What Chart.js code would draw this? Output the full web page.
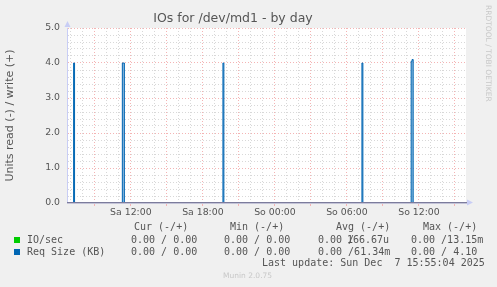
<!DOCTYPE html>
<html>
<head>
<meta charset="utf-8">
<script src="https://cdn.jsdelivr.net/npm/chart.js@4.4.1/dist/chart.umd.min.js"></script>
<style>
  html, body { margin: 0; padding: 0; background: #f0f0f0; }
  #wrap { position: relative; width: 497px; height: 287px; overflow: hidden; }
  #chart { position: absolute; left: 0; top: 0; }
  .t { position: absolute; white-space: pre; font-family: 'DejaVu Sans Mono', monospace; font-size: 10px; line-height: 10px; color: #555; }
  .sw { position: absolute; width: 6px; height: 6px; }
  .wm { position: absolute; font-family: 'DejaVu Sans', sans-serif; font-size: 7.5px; line-height: 8px; color: #c8c8c8; white-space: pre; }
</style>
</head>
<body>
<div id="wrap">
  <canvas id="chart" width="497" height="287"></canvas>

  <div class="wm" style="left:484px; top:5px; writing-mode: vertical-rl;">RRDTOOL / TOBI OETIKER</div>

  <div class="t" style="left:134px; top:222px;">Cur (-/+)</div>
  <div class="t" style="left:230px; top:222px;">Min (-/+)</div>
  <div class="t" style="left:336px; top:222px;">Avg (-/+)</div>
  <div class="t" style="left:423px; top:222px;">Max (-/+)</div>

  <div class="sw" style="left:14px; top:237px; background:#00cc00;"></div>
  <div class="t" style="left:27px; top:235px;">IO/sec</div>
  <div class="t" style="left:131px; top:235px;">0.00 / 0.00</div>
  <div class="t" style="left:224px; top:235px;">0.00 / 0.00</div>
  <div class="t" style="left:318px; top:235px;">0.00 /</div>
  <div class="t" style="left:347px; top:235px;">166.67u</div>
  <div class="t" style="left:411px; top:235px;">0.00 /13.15m</div>

  <div class="sw" style="left:14px; top:249px; background:#0066b3;"></div>
  <div class="t" style="left:27px; top:247px;">Req Size (KB)</div>
  <div class="t" style="left:131px; top:247px;">0.00 / 0.00</div>
  <div class="t" style="left:224px; top:247px;">0.00 / 0.00</div>
  <div class="t" style="left:318px; top:247px;">0.00 /61.34m</div>
  <div class="t" style="left:411px; top:247px;">0.00 / 4.10</div>

  <div class="t" style="left:262px; top:258px;">Last update: Sun Dec  7 15:55:04 2025</div>

  <div class="wm" style="left:223px; top:272px;">Munin 2.0.75</div>
</div>

<script>
// Zeitachse in Stunden ab Samstag 00:00
const xMin = 6.68;
const xMax = 39.92;

const labelHours = [12, 18, 24, 30, 36];
const labelTexts = ['Sa 12:00', 'Sa 18:00', 'So 00:00', 'So 06:00', 'So 12:00'];
const majorGridHours = [9, 12, 15, 18, 21, 24, 27, 30, 33, 36, 39];
const yLabelValues = [0, 1, 2, 3, 4, 5];

// Req Size (KB): Werte gelten bis zum nächsten Zeitpunkt
const reqTimes  = [6.68, 7.23, 7.31, 11.29, 11.46, 19.67, 19.75, 31.25, 31.33, 35.35, 35.43, 35.52, 39.92];
const reqValues = [0,    4.0,  0,    4.0,   0,     4.0,   0,     4.0,   0,     4.05,  4.10,  0,     0];

// IO/sec: praktisch null
const ioTimes  = [6.68, 7.23, 7.31, 11.29, 11.46, 19.67, 19.75, 31.25, 31.33, 35.35, 35.52, 39.92];
const ioValues = [0,    0.013, 0,   0.013, 0,     0.013, 0,     0.013, 0,     0.013, 0,     0];

const RED = '#f4b4b4';
const GREY = '#d8d8d8';
const AXIS = '#c8cdf5';

function toPoints(xs, ys) {
    return xs.map((x, i) => ({ x: x, y: ys[i] }));
}

const isMajorY = v => yLabelValues.some(m => Math.abs(m - v) < 1e-6);
const isMajorX = v => majorGridHours.includes(v);

// Hintergrund, Nulllinie und Pfeile
const muninDecor = {
    id: 'muninDecor',
    beforeDraw(chart) {
        const { ctx, chartArea: a } = chart;
        ctx.save();
        ctx.fillStyle = '#f0f0f0';
        ctx.fillRect(0, 0, chart.width, chart.height);
        ctx.fillStyle = '#ffffff';
        ctx.fillRect(a.left, a.top, a.right - a.left, a.bottom - a.top);
        ctx.restore();
    },
    afterDatasetsDraw(chart) {
        const { ctx, chartArea: a } = chart;
        const y0 = Math.round(chart.scales.y.getPixelForValue(0));
        ctx.save();
        ctx.fillStyle = '#7c7c9c';
        ctx.fillRect(a.left, y0 - 1, a.right - a.left + 1, 1);
        ctx.fillStyle = '#c4c4d8';
        ctx.fillRect(a.left, y0, a.right - a.left + 1, 1);

        ctx.fillStyle = AXIS;
        ctx.beginPath();
        ctx.moveTo(a.right + 1, y0 - 3.5);
        ctx.lineTo(a.right + 7, y0 - 0.5);
        ctx.lineTo(a.right + 1, y0 + 2.5);
        ctx.closePath();
        ctx.fill();

        const xl = a.left + 0.5;
        ctx.beginPath();
        ctx.moveTo(xl - 3, a.top - 1);
        ctx.lineTo(xl, a.top - 7);
        ctx.lineTo(xl + 3, a.top - 1);
        ctx.closePath();
        ctx.fill();
        ctx.restore();
    }
};

new Chart(document.getElementById('chart'), {
    type: 'line',
    data: {
        datasets: [
            {
                label: 'IO/sec',
                data: toPoints(ioTimes, ioValues),
                borderColor: '#00cc00',
                borderWidth: 1,
                pointRadius: 0,
                stepped: true,
                fill: false
            },
            {
                label: 'Req Size (KB)',
                data: toPoints(reqTimes, reqValues),
                borderColor: '#0066b3',
                backgroundColor: 'rgba(0, 102, 179, 0.45)',
                borderWidth: 1,
                pointRadius: 0,
                stepped: true,
                fill: 'origin'
            }
        ]
    },
    options: {
        responsive: false,
        animation: false,
        devicePixelRatio: 1,
        layout: {
            padding: { top: 0, left: 0, right: 31, bottom: 64 }
        },
        plugins: {
            legend: { display: false },
            tooltip: { enabled: false },
            title: {
                display: true,
                text: 'IOs for /dev/md1 - by day',
                color: '#555',
                font: { family: 'DejaVu Sans', size: 12.5, weight: 'normal', lineHeight: 1.2 },
                padding: { top: 11.5, bottom: 1.5 }
            }
        },
        scales: {
            x: {
                type: 'linear',
                min: xMin,
                max: xMax,
                afterBuildTicks: scale => {
                    const ticks = [];
                    for (let h = 7; h <= 39; h++) ticks.push({ value: h });
                    scale.ticks = ticks;
                },
                afterFit: scale => { scale.height = 20; },
                grid: {
                    color: c => (c.tick && isMajorX(c.tick.value)) ? RED : GREY,
                    tickColor: c => (c.tick && isMajorX(c.tick.value)) ? RED : 'rgba(0,0,0,0)',
                    tickLength: 3,
                    drawTicks: true
                },
                border: { display: false, dash: [1, 2] },
                ticks: {
                    autoSkip: false,
                    maxRotation: 0,
                    minRotation: 0,
                    padding: 1,
                    color: '#555',
                    font: { family: 'DejaVu Sans', size: 9.33 },
                    callback: value => {
                        const i = labelHours.indexOf(value);
                        return i >= 0 ? labelTexts[i] : '';
                    }
                }
            },
            y: {
                min: 0,
                max: 5,
                afterBuildTicks: scale => {
                    const ticks = [];
                    for (let i = 0; i <= 25; i++) ticks.push({ value: i / 5 });
                    scale.ticks = ticks;
                },
                afterFit: scale => { scale.width = 67; },
                grid: {
                    color: c => (c.tick && isMajorY(c.tick.value)) ? RED : GREY,
                    drawTicks: false
                },
                border: { display: true, color: AXIS, dash: [1, 2] },
                title: {
                    display: true,
                    text: 'Units read (-) / write (+)',
                    color: '#555',
                    font: { family: 'DejaVu Sans', size: 11, lineHeight: 1.2 },
                    padding: { top: 4, bottom: 4 }
                },
                ticks: {
                    autoSkip: false,
                    padding: 7,
                    color: '#555',
                    font: { family: 'DejaVu Sans', size: 9.33 },
                    callback: value => isMajorY(value) ? value.toFixed(1) : ''
                }
            }
        }
    },
    plugins: [muninDecor]
});
</script>
</body>
</html>
